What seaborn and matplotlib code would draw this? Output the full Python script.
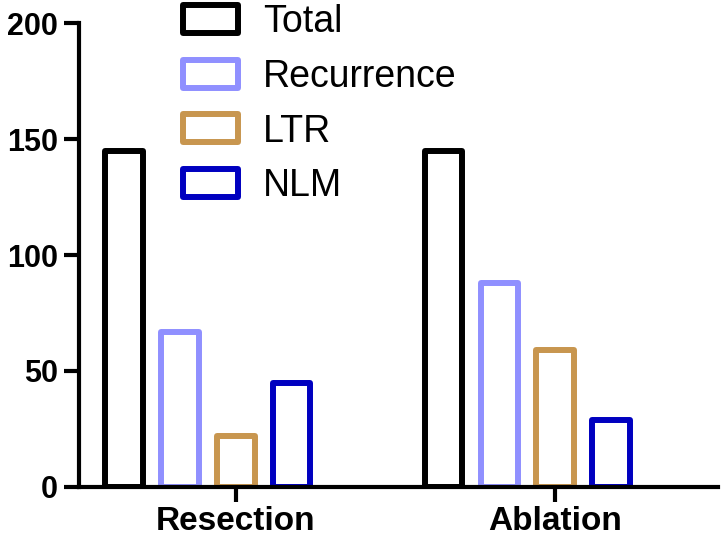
import matplotlib
matplotlib.use("Agg")
import numpy as np
import pandas as pd
import matplotlib.pyplot as plt
import seaborn as sns

# values
groups = ["Resection", "Ablation"]
series = ["Total", "Recurrence", "LTR", "NLM"]
total = [145, 145]
recurrence = [67, 88]
ltr = [22, 59]
nlm = [45, 29]
y_ticks = [0, 50, 100, 150, 200]
colors = ["#000000", "#9090FF", "#C8964F", "#0000C0"]

rows = []
for s, vals in zip(series, [total, recurrence, ltr, nlm]):
    for g, v in zip(groups, vals):
        rows.append({"group": g, "series": s, "count": v})
df = pd.DataFrame(rows)

sns.set_style("ticks")
plt.rcParams["font.family"] = ["Liberation Sans", "DejaVu Sans"]
plt.rcParams["text.color"] = "black"
plt.rcParams["xtick.labelcolor"] = "black"
plt.rcParams["ytick.labelcolor"] = "black"

fig = plt.figure(figsize=(7.25, 5.38), dpi=100)
ax = fig.add_axes([0.109, 0.095, 0.881, 0.862])

sns.barplot(data=df, x="group", y="count", hue="series", order=groups,
            hue_order=series, palette=colors, fill=False, width=0.7, gap=0.33,
            linewidth=4.3, errorbar=None, ax=ax)

for p in ax.patches:
    p.set_joinstyle("round")

# axis styling (Prism-like)
sns.despine(ax=ax)
for side in ["left", "bottom"]:
    ax.spines[side].set_linewidth(3)
    ax.spines[side].set_color("black")
ax.set_ylim(0, 200)
ax.set_xlim(-0.404, 1.597)
ax.set_yticks(y_ticks)
ax.tick_params(axis="both", width=3, length=11, color="black", labelcolor="black")
ax.tick_params(axis="y", pad=4, labelsize=22)
ax.tick_params(axis="x", pad=2.5, labelsize=24)

# Prism puts the group tick under the third bar
ltr_bars = ax.containers[2]
tick_pos = [b.get_x() + b.get_width() / 2 for b in ltr_bars]
ax.set_xticks(tick_pos, groups)
for lbl in ax.get_xticklabels() + ax.get_yticklabels():
    lbl.set_fontweight("bold")
ax.set_xlabel("")
ax.set_ylabel("")

handles, labels = ax.get_legend_handles_labels()
leg = ax.legend(handles, labels, loc="upper left", bbox_to_anchor=(183 / 725, 1 - 4 / 538),
                bbox_transform=fig.transFigure, frameon=False, fontsize=27,
                handlelength=1.47, handleheight=0.77, handletextpad=0.67,
                labelspacing=0.5, borderpad=0, borderaxespad=0)
for h in leg.legend_handles:
    h.set_linewidth(4.3)
    h.set_joinstyle("round")
for t in leg.get_texts():
    t.set_color("black")

fig.savefig("out.png", dpi=100)
